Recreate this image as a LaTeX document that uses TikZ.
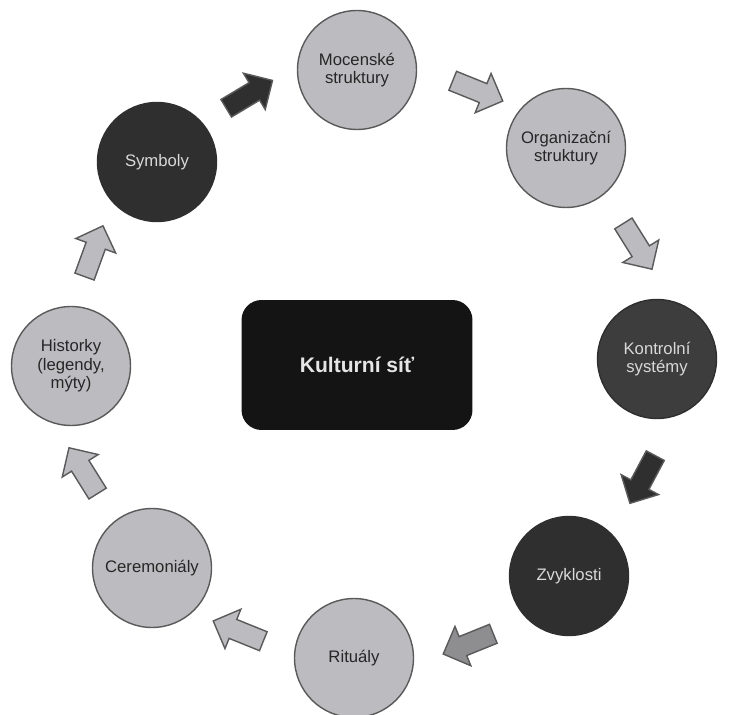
\documentclass[tikz,border=0pt]{standalone}
\usepackage{fontspec}
\setmainfont{Liberation Sans}
\usetikzlibrary{shapes.arrows}

\definecolor{lightgr}{HTML}{BCBCC0}
\definecolor{darkgr}{HTML}{2F2F2F}
\definecolor{midgr}{HTML}{8E8E90}
\definecolor{edgegr}{HTML}{5A5A5A}

\tikzset{
  lightcirc/.style={circle,draw=edgegr,thick,fill=lightgr,text=black!85,
    minimum size=2.38cm,align=center,inner sep=1pt,
    font=\fontsize{9.5}{10.5}\selectfont},
  darkcirc/.style={lightcirc,draw=darkgr,fill=darkgr,text=white!85!black},
  blockarrow/.style={single arrow,draw=edgegr,thick,fill=lightgr,
    minimum height=1.08cm,inner sep=0.19cm,single arrow head extend=0.22cm},
}

\begin{document}
\begin{tikzpicture}[x=0.02cm,y=-0.02cm]
  \useasboundingbox[fill=white] (0,0) rectangle (730,715);

  % centre
  \node[rounded corners=0.4cm,fill=black!92,minimum width=4.62cm,minimum height=2.6cm,
    text=white!90!black,font=\fontsize{12}{14}\selectfont\bfseries] (net) at (357,365) {Kulturní síť};

  % circles
  \begin{scope}
    \node[lightcirc] (moc) at (357,70) {Mocenské\\struktury};
    \node[lightcirc] (org) at (566,148) {Organizační\\struktury};
    \node[darkcirc, fill=black!76] (kon) at (657,359) {Kontrolní\\systémy};
    \node[darkcirc] (zvy) at (569,576) {Zvyklosti};
    \node[lightcirc] (rit) at (354,658) {Rituály};
    \node[lightcirc] (cer) at (152,568) {Ceremoniály};
    \node[lightcirc] (his) at (71,366) {Historky\\(legendy,\\mýty)};
    \node[darkcirc] (sym) at (157,162) {Symboly};
  \end{scope}

  % arrows between the circles
  \begin{scope}
    \node[blockarrow, fill=darkgr, rotate=31] (symmoc) at (245,97) {};
    \node[blockarrow, rotate=-22] (mocorg) at (473,89) {};
    \node[blockarrow, rotate=-58] (orgkon) at (635,242) {};
    \node[blockarrow, fill=darkgr, rotate=-118] (konzvy) at (645,475) {};
    \node[blockarrow, fill=midgr, rotate=-158] (zvyrit) at (473,642) {};
    \node[blockarrow, rotate=158] (ritcer) at (243,633) {};
    \node[blockarrow, rotate=122] (cerhis) at (86,475) {};
    \node[blockarrow, rotate=70] (hissym) at (92,256) {};
  \end{scope}
\end{tikzpicture}
\end{document}
